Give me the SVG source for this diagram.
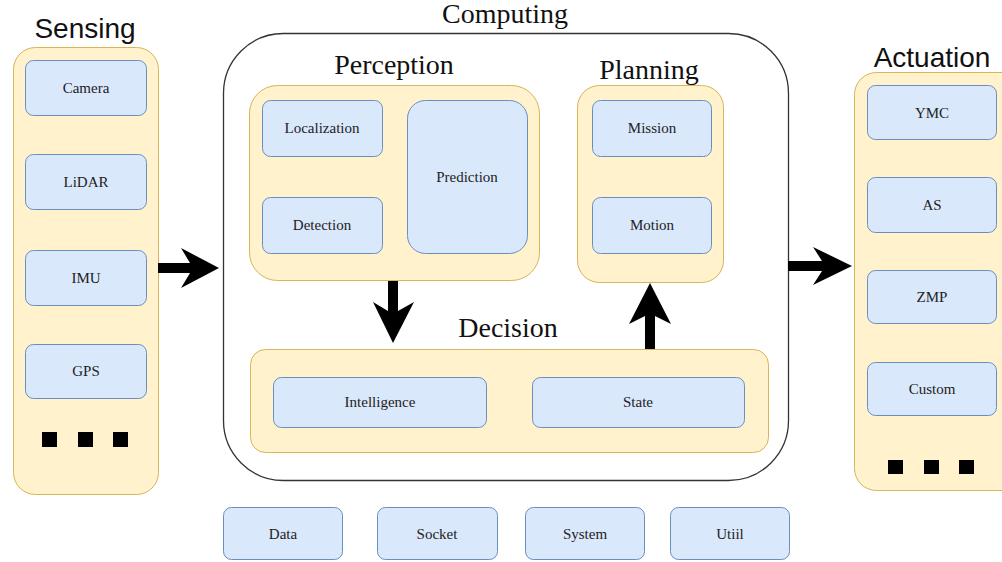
<svg xmlns="http://www.w3.org/2000/svg" width="1002" height="562" viewBox="0 0 1002 562">
<style>
.grp{fill:#fff2cc;stroke:#d6b656;stroke-width:1}
.nd{fill:#dae8fc;stroke:#6c8ebf;stroke-width:1}
.lb{font-family:"Liberation Serif","Times New Roman",serif;font-size:15px;fill:#222;text-anchor:middle}
.ttl{font-family:"Liberation Serif","Times New Roman",serif;font-size:28px;fill:#111;text-anchor:middle}
.sttl{font-family:"Liberation Sans",Arial,sans-serif;font-size:28px;fill:#111;text-anchor:middle}
.dot{fill:#000}
.arr{fill:#000;stroke:none}
</style>
<rect width="1002" height="562" fill="#fff"/>

<g id="computing">
<rect x="223.5" y="33.5" width="565" height="447" rx="60" fill="#fff" stroke="#333" stroke-width="1.3"/>
<text class="ttl" x="505" y="23">Computing</text>
</g>

<g id="sensing">
<rect class="grp" x="13.5" y="47.5" width="145" height="447" rx="22"/>
<text class="sttl" x="85" y="38">Sensing</text>
<rect class="dot" x="42" y="432" width="15" height="15"/>
<rect class="dot" x="78" y="432" width="15" height="15"/>
<rect class="dot" x="113" y="432" width="15" height="15"/>
</g>
<g id="camera"><rect class="nd" x="25.5" y="60.5" width="121" height="55" rx="8"/><text class="lb" x="86" y="93">Camera</text></g>
<g id="lidar"><rect class="nd" x="25.5" y="154.5" width="121" height="55" rx="8"/><text class="lb" x="86" y="187">LiDAR</text></g>
<g id="imu"><rect class="nd" x="25.5" y="250.5" width="121" height="55" rx="8"/><text class="lb" x="86" y="283">IMU</text></g>
<g id="gps"><rect class="nd" x="25.5" y="344.5" width="121" height="54" rx="8"/><text class="lb" x="86" y="376">GPS</text></g>

<g id="perception">
<rect class="grp" x="249.5" y="85.5" width="290" height="195" rx="28"/>
<text class="ttl" x="394" y="74">Perception</text>
</g>
<g id="localization"><rect class="nd" x="262.5" y="100.5" width="120" height="56" rx="8"/><text class="lb" x="322" y="133">Localization</text></g>
<g id="detection"><rect class="nd" x="262.5" y="197.5" width="120" height="56" rx="8"/><text class="lb" x="322" y="230">Detection</text></g>
<g id="prediction"><rect class="nd" x="407.5" y="100.5" width="120" height="153" rx="18"/><text class="lb" x="467" y="182">Prediction</text></g>

<g id="planning">
<rect class="grp" x="577.5" y="85.5" width="146" height="197" rx="22"/>
<text class="ttl" x="649" y="79">Planning</text>
</g>
<g id="mission"><rect class="nd" x="592.5" y="100.5" width="119" height="56" rx="8"/><text class="lb" x="652" y="133">Mission</text></g>
<g id="motion"><rect class="nd" x="592.5" y="197.5" width="119" height="56" rx="8"/><text class="lb" x="652" y="230">Motion</text></g>

<g id="decision">
<rect class="grp" x="250.5" y="349.5" width="518" height="103" rx="15"/>
<text class="ttl" x="508" y="337">Decision</text>
</g>
<g id="intelligence"><rect class="nd" x="273.5" y="377.5" width="213" height="50" rx="8"/><text class="lb" x="380" y="407">Intelligence</text></g>
<g id="state"><rect class="nd" x="532.5" y="377.5" width="212" height="50" rx="8"/><text class="lb" x="638" y="407">State</text></g>

<g id="actuation">
<rect class="grp" x="854.5" y="72.5" width="170" height="418" rx="22"/>
<text class="sttl" x="932" y="67">Actuation</text>
<rect class="dot" x="888" y="460" width="15" height="14"/>
<rect class="dot" x="924" y="460" width="15" height="14"/>
<rect class="dot" x="959" y="460" width="15" height="14"/>
</g>
<g id="ymc"><rect class="nd" x="867.5" y="85.5" width="129" height="54" rx="8"/><text class="lb" x="932" y="118">YMC</text></g>
<g id="as"><rect class="nd" x="867.5" y="177.5" width="129" height="55" rx="8"/><text class="lb" x="932" y="210">AS</text></g>
<g id="zmp"><rect class="nd" x="867.5" y="270.5" width="129" height="53" rx="8"/><text class="lb" x="932" y="302">ZMP</text></g>
<g id="custom"><rect class="nd" x="867.5" y="362.5" width="129" height="53" rx="8"/><text class="lb" x="932" y="394">Custom</text></g>

<g id="data"><rect class="nd" x="223.5" y="507.5" width="119" height="52" rx="8"/><text class="lb" x="283" y="539">Data</text></g>
<g id="socket"><rect class="nd" x="377.5" y="507.5" width="120" height="52" rx="8"/><text class="lb" x="437" y="539">Socket</text></g>
<g id="system"><rect class="nd" x="525.5" y="507.5" width="119" height="52" rx="8"/><text class="lb" x="585" y="539">System</text></g>
<g id="utiil"><rect class="nd" x="670.5" y="507.5" width="119" height="52" rx="8"/><text class="lb" x="730" y="539">Utiil</text></g>

<g id="connectors">
<path class="arr" d="M158 263 L190 263 L181 248 L219 268 L181 288 L190 273 L158 273 Z"/>
<path class="arr" d="M788 261 L822 261 L813 247 L852 266 L813 285 L822 271 L788 271 Z"/>
<path class="arr" d="M388 281 L388 311 L373 302 L393 343 L414 302 L398 311 L398 281 Z"/>
<path class="arr" d="M645 349 L645 316 L629 324 L650 283 L671 324 L655 316 L655 349 Z"/>
</g>
</svg>
